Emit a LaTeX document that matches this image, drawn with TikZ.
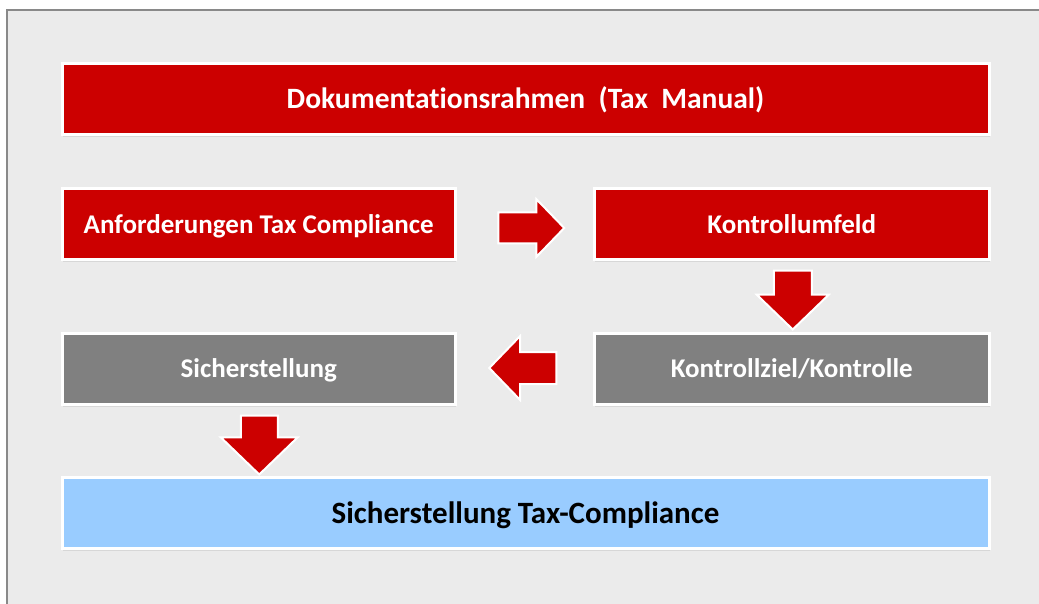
\documentclass[tikz,border=0pt]{standalone}
\usepackage{fontspec}
\setmainfont{Carlito}[Ligatures=NoCommon]
\newfontfamily\titlefont{Carlito}[Ligatures=NoCommon, WordSpace=2]
\usepackage{tikz}
\usetikzlibrary{shapes.arrows,calc,shadows}

\definecolor{boxred}{HTML}{CC0000}
\definecolor{boxgray}{HTML}{808080}
\definecolor{boxblue}{HTML}{99CCFF}
\definecolor{canvas}{HTML}{EBEBEB}
\definecolor{frame}{HTML}{898989}

\tikzset{
  box/.style={draw=white, line width=3pt, minimum width=393pt, minimum height=71pt, inner sep=0pt,
    text=white, font=\bfseries\fontsize{27}{31}\selectfont, text height=17.4pt, text depth=0pt,
    drop shadow={opacity=0.18, shadow xshift=0.8pt, shadow yshift=-2pt}},
  redbox/.style={box, fill=boxred},
  graybox/.style={box, fill=boxgray},
  bluebox/.style={box, fill=boxblue, text=black},
  blockarrow/.style={single arrow, fill=boxred, draw=white, line width=2pt, inner xsep=0pt,
    single arrow tip angle=92},
}

\begin{document}
\begin{tikzpicture}[x=1pt,y=-1pt]
\useasboundingbox (0,0) rectangle (1039,604);
\fill[canvas] (7,10) rectangle (1039,604);
\draw[frame, line width=2pt] (7,604) -- (7,10) -- (1039,10);

\node [redbox, minimum width=927pt, font=\titlefont\bfseries\fontsize{29.5}{33}\selectfont, text height=19pt] (rahmen) at (525.5,99.5) {Dokumentationsrahmen (Tax Manual)};
\node [redbox] (anf) at (258.75,224.5) {Anforderungen Tax Compliance};
\node [redbox, minimum width=395pt] (umfeld) at (791.75,224.5) {Kontrollumfeld};
\node [graybox, minimum width=395pt] (ziel) at (791.75,369) {Kontrollziel/Kontrolle};
\node [graybox] (sicher) at (258.75,369) {Sicherstellung};
\node [bluebox, minimum width=927pt, font=\bfseries\fontsize{31}{35}\selectfont, text height=20pt] (tax) at (525.5,513) {Sicherstellung Tax-Compliance};

\node [blockarrow, inner ysep=14.5pt, minimum height=66pt, single arrow head extend=13.5pt, anchor=tail] (a1) at ($(anf.east)+(40.5,3.5)$) {};
\node [blockarrow, inner ysep=18pt, minimum height=59pt, single arrow head extend=17pt, rotate=-90, anchor=tail] (a2) at ($(umfeld.south)+(1,8)$) {};
\node [blockarrow, inner ysep=15pt, minimum height=67pt, single arrow head extend=16pt, rotate=180, anchor=tail] (a3) at ($(ziel.west)+(-35.5,-1)$) {};
\node [blockarrow, inner ysep=17.5pt, minimum height=59pt, single arrow head extend=20pt, rotate=-90, anchor=tail] (a4) at ($(sicher.south)+(0.5,8.5)$) {};
\end{tikzpicture}
\end{document}
